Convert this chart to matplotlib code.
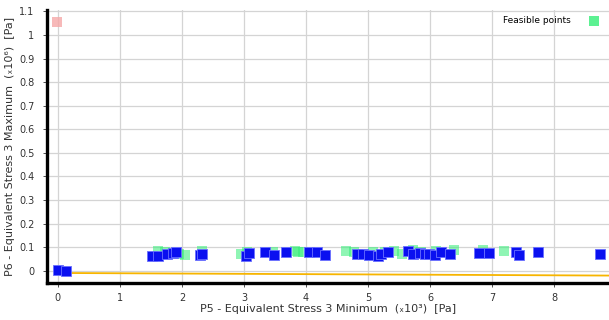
import numpy as np
import matplotlib.pyplot as plt
from matplotlib.ticker import FuncFormatter

# design points (x in 1e3 Pa, y in 1e6 Pa)
blue_x = [0.0, 0.13, 1.52, 1.61, 1.76, 1.86, 1.90, 2.29, 2.32, 3.03, 3.08,
          3.34, 3.48, 3.68, 4.05, 4.18, 4.31, 4.82, 4.92, 5.02, 5.16, 5.21,
          5.32, 5.65, 5.73, 5.84, 5.92, 5.98, 6.08, 6.18, 6.32, 6.79, 6.95,
          7.39, 7.44, 7.74, 8.74]
blue_y = [0.003, -0.001, 0.064, 0.065, 0.070, 0.074, 0.080, 0.068, 0.070,
          0.062, 0.075, 0.082, 0.068, 0.078, 0.080, 0.078, 0.068, 0.072,
          0.071, 0.068, 0.062, 0.072, 0.080, 0.083, 0.072, 0.075, 0.071,
          0.071, 0.069, 0.080, 0.070, 0.074, 0.074, 0.080, 0.066, 0.078,
          0.073]

green_x = [1.62, 1.72, 1.95, 2.05, 2.33, 2.95, 3.05, 3.47, 3.82, 3.88,
           3.95, 4.65, 4.78, 5.08, 5.27, 5.42, 5.55, 5.72, 5.85, 6.10,
           6.38, 6.85, 7.20]
green_y = [0.085, 0.082, 0.070, 0.068, 0.085, 0.072, 0.078, 0.080, 0.085,
           0.080, 0.078, 0.085, 0.080, 0.078, 0.082, 0.086, 0.072, 0.088,
           0.082, 0.084, 0.090, 0.088, 0.086]

pink_x = [-0.02]
pink_y = [1.056]

fit_x = [0.0, 8.89]
fit_y = [-0.009, -0.020]

x_ticks = [0, 1, 2, 3, 4, 5, 6, 7, 8]
y_ticks = [0, 0.1, 0.2, 0.3, 0.4, 0.5, 0.6, 0.7, 0.8, 0.9, 1.0, 1.1]

fig = plt.figure(figsize=(6.09, 3.2), dpi=100)
ax = fig.add_axes([0.077, 0.116, 0.923, 0.853])

ax.plot(fit_x, fit_y, color="#f7b500", lw=1.3, zorder=2)
ax.scatter(pink_x, pink_y, marker="s", s=45, color="#f5a8a8", alpha=0.8,
           linewidths=0, zorder=3)
ax.scatter(green_x, green_y, marker="s", s=50, color="#33ee77", alpha=0.55,
           linewidths=0, zorder=3, label="Feasible points")
ax.scatter(blue_x, blue_y, marker="s", s=42, color="#0a10f0",
           edgecolors="#6a70ff", linewidths=0.6, zorder=4)

ax.set_xlim(-0.177, 8.887)
ax.set_ylim(-0.051, 1.106)
ax.set_xticks(x_ticks)
ax.set_yticks(y_ticks)
ax.yaxis.set_major_formatter(FuncFormatter(lambda v, p: "%g" % round(v, 2)))
ax.grid(True, color="#d4d4d4", lw=0.9)
ax.set_axisbelow(True)

for s in ["top", "right"]:
    ax.spines[s].set_visible(False)
for s in ["left", "bottom"]:
    ax.spines[s].set_linewidth(2.4)
    ax.spines[s].set_color("black")

ax.tick_params(labelsize=7, colors="#333333", length=3, width=0.6)
ax.tick_params(axis="x", pad=4)
ax.tick_params(axis="y", pad=6)
ax.set_xlabel("P5 - Equivalent Stress 3 Minimum  (\u209310\u00b3)  [Pa]",
              fontsize=8, color="#333333", labelpad=1)
ax.set_ylabel("P6 - Equivalent Stress 3 Maximum  (\u209310\u2076)  [Pa]",
              fontsize=8, color="#333333", labelpad=3)

leg = ax.legend(loc="upper right", frameon=False, markerfirst=False,
                fontsize=6.5, handletextpad=1.5, borderaxespad=0.3)
for h in leg.legend_handles:
    h.set_alpha(0.8)

fig.savefig("out.png", dpi=100)
